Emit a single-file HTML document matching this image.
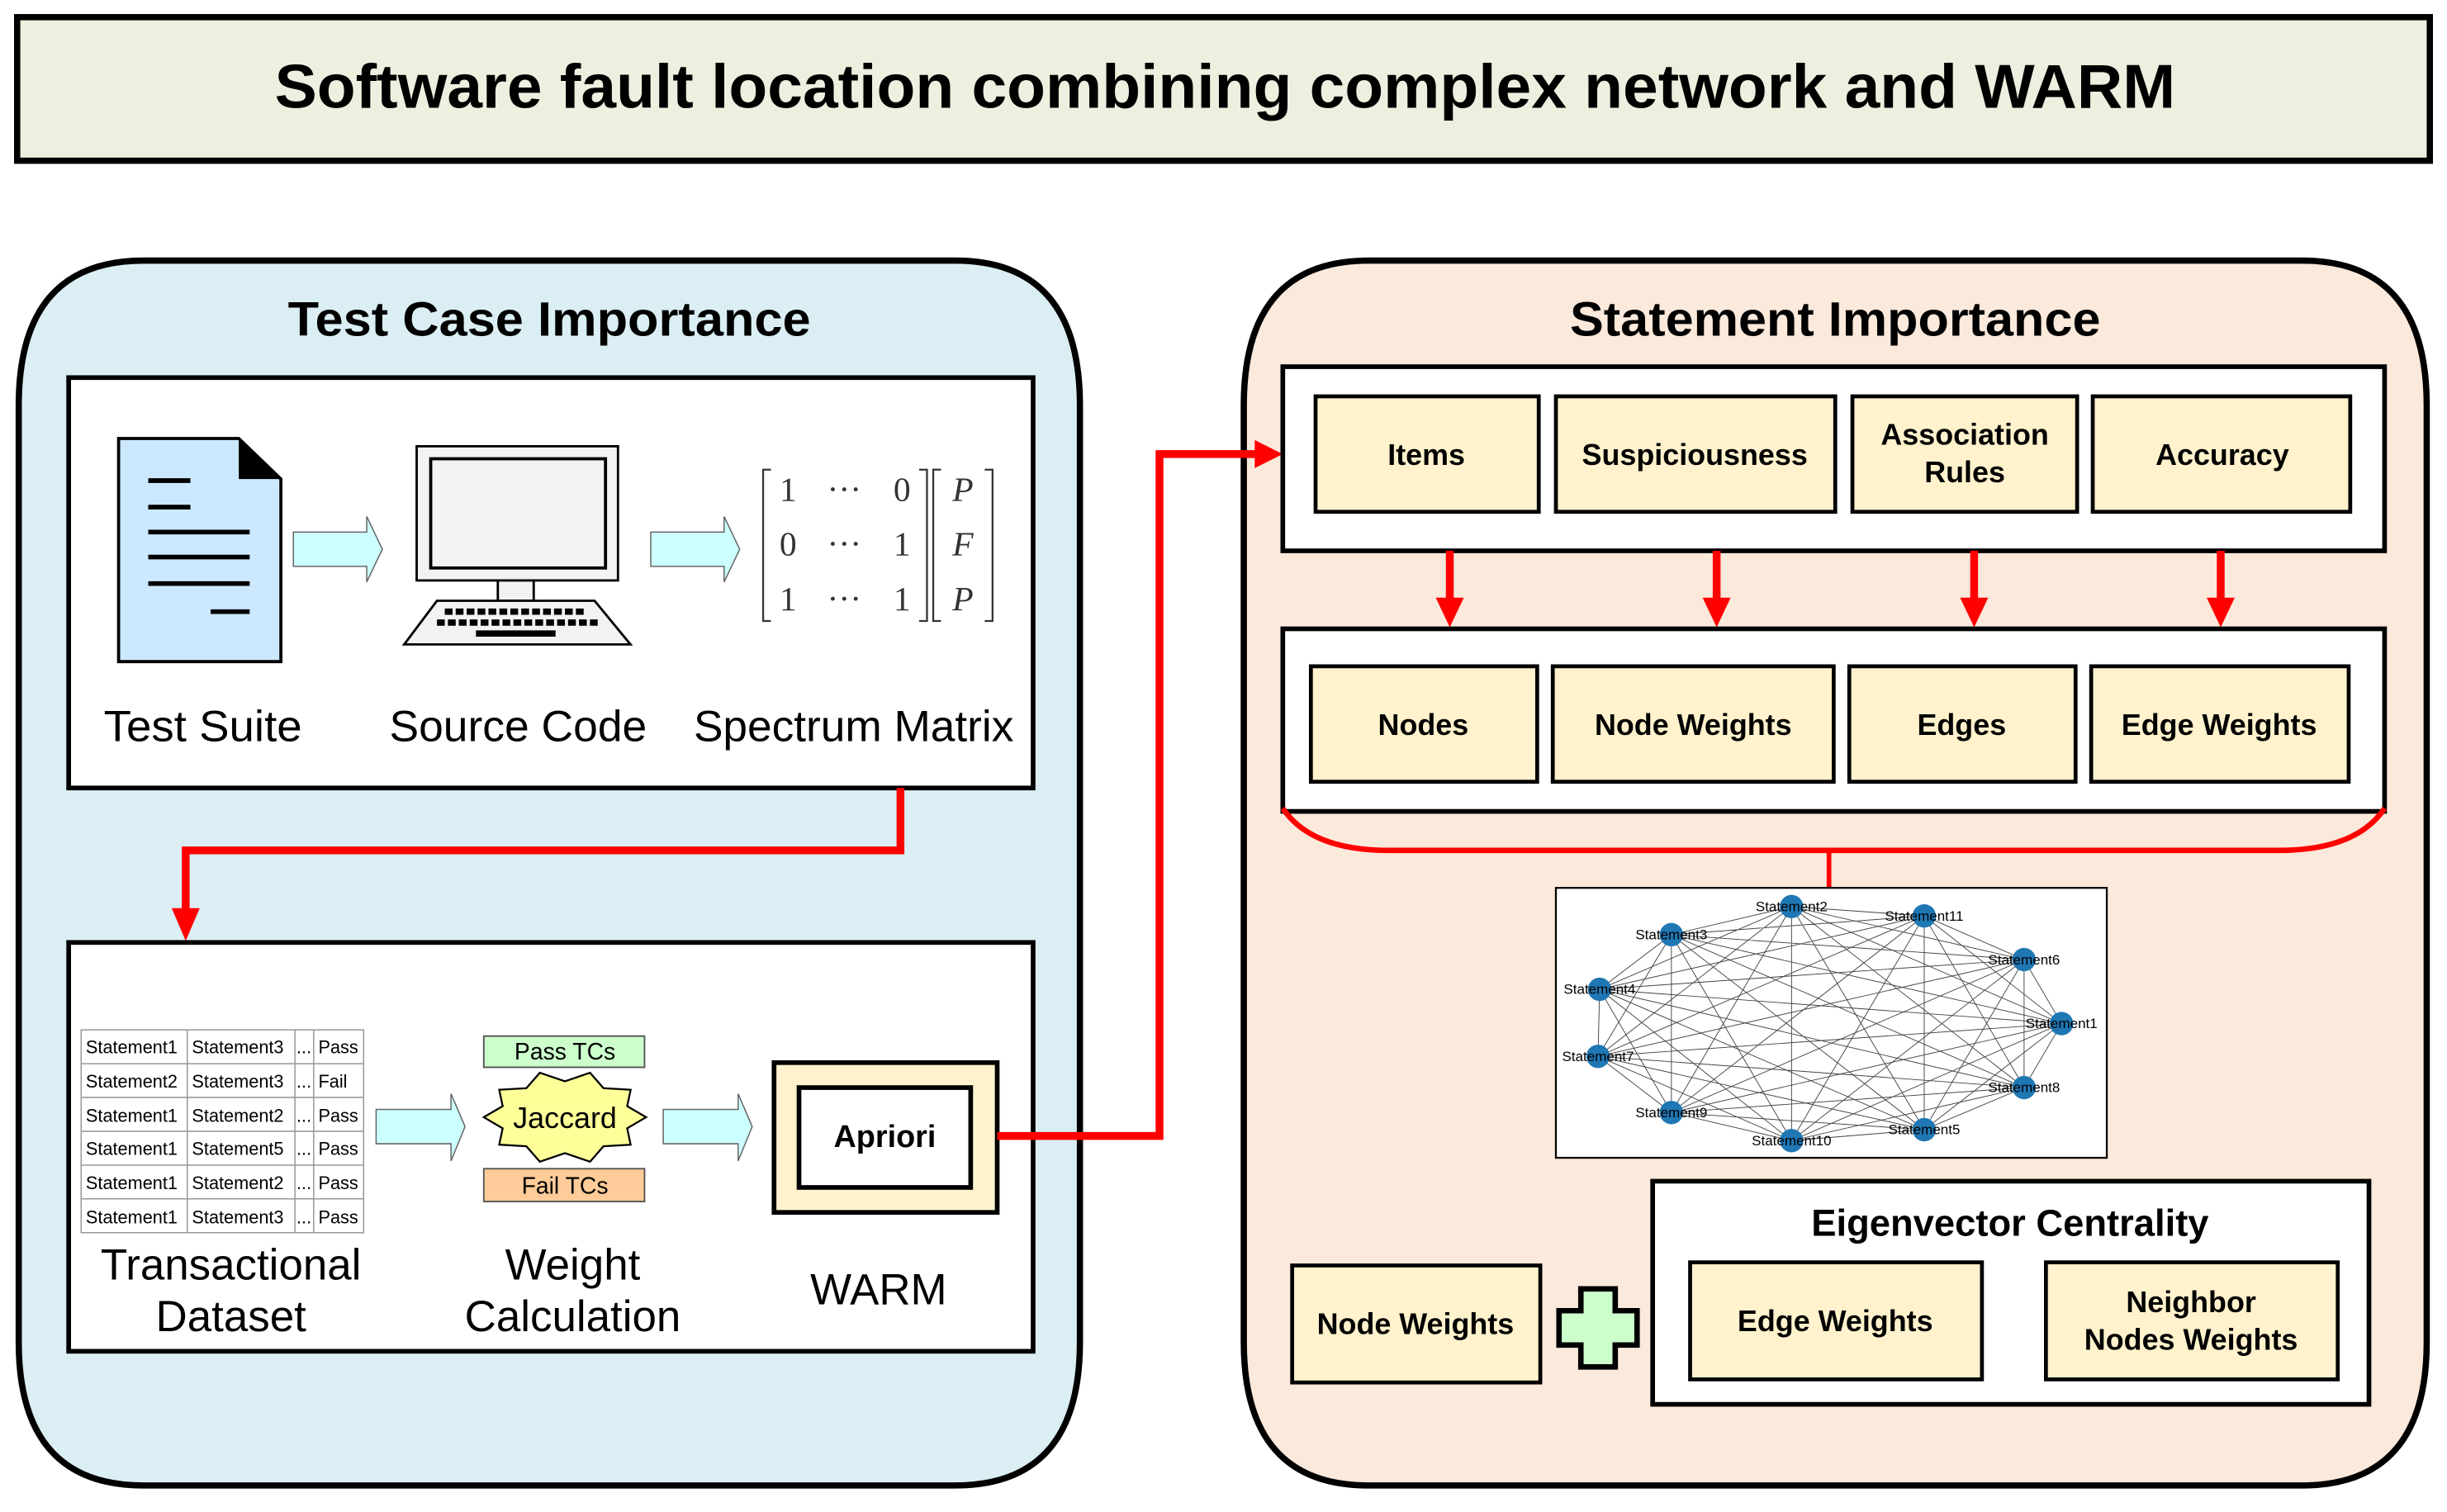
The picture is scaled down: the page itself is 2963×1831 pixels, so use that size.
<!DOCTYPE html>
<html><head><meta charset="utf-8"><style>
html,body{margin:0;padding:0;background:#fff;}
svg{display:block;}
text{font-family:"Liberation Sans",Arial,sans-serif;}
</style></head><body>
<svg width="2963" height="1831" viewBox="0 0 1568 969" preserveAspectRatio="none" xmlns="http://www.w3.org/2000/svg">
<!-- Title -->
<rect x="11" y="11" width="1546" height="92" fill="#EBF1DE" stroke="#000" stroke-width="4"/>
<text x="785" y="69" font-size="40" font-weight="bold" text-anchor="middle" textLength="1218" lengthAdjust="spacingAndGlyphs">Software fault location combining complex network and WARM</text>

<!-- Left panel -->
<path d="M92,167 H612 Q692,167 692,260 V860 Q692,952 612,952 H92 Q12,952 12,860 V260 Q12,167 92,167 Z" fill="#DAEEF3" stroke="#000" stroke-width="4"/>
<text x="352" y="215" font-size="31" font-weight="bold" text-anchor="middle" textLength="335" lengthAdjust="spacingAndGlyphs">Test Case Importance</text>
<rect x="44" y="242" width="618" height="263" fill="#fff" stroke="#000" stroke-width="3"/>

<!-- doc icon -->
<polygon points="76,281 153,281 180,307 180,424 76,424" fill="#CCE8FF" stroke="#000" stroke-width="2"/>
<polygon points="153,281 180,307 153,307" fill="#000"/>
<g stroke="#000" stroke-width="3">
<line x1="95" y1="308" x2="122" y2="308"/><line x1="95" y1="325" x2="122" y2="325"/>
<line x1="95" y1="341" x2="160" y2="341"/><line x1="95" y1="357" x2="160" y2="357"/>
<line x1="95" y1="374" x2="160" y2="374"/><line x1="135" y1="392" x2="160" y2="392"/>
</g>
<!-- block arrows -->
<polygon points="188,341 235,341 235,331 245,352 235,373 235,363 188,363" fill="#CCFFFF" stroke="#666" stroke-width="0.8"/>
<polygon points="417,341 464,341 464,331 474,352 464,373 464,363 417,363" fill="#CCFFFF" stroke="#666" stroke-width="0.8"/>
<!-- computer -->
<rect x="267" y="286" width="129" height="86" fill="#F2F2F2" stroke="#000" stroke-width="1.5"/>
<rect x="276" y="294" width="112" height="70" fill="#F2F2F2" stroke="#000" stroke-width="2"/>
<rect x="319" y="372" width="23" height="13" fill="#F2F2F2" stroke="#000" stroke-width="1.5"/>
<polygon points="280,385 381,385 404,413 259,413" fill="#F2F2F2" stroke="#000" stroke-width="1.5"/>
<g stroke="#000" stroke-width="4" stroke-dasharray="5,2">
<line x1="285" y1="392" x2="376" y2="392"/><line x1="280" y1="399" x2="384" y2="399"/>
</g>
<line x1="305" y1="406" x2="356" y2="406" stroke="#000" stroke-width="4"/>
<!-- matrix -->
<g fill="none" stroke="#333" stroke-width="1.2">
<path d="M494,301 H489 V398 H494"/><path d="M589,301 H594 V398 H589"/>
<path d="M603,301 H598 V398 H603"/><path d="M631,301 H636 V398 H631"/>
</g>
<g style="font-family:'Liberation Serif',serif" font-size="22" fill="#333" text-anchor="middle">
<text style="font-family:'Liberation Serif',serif" x="505" y="321">1</text><text style="font-family:'Liberation Serif',serif" x="541" y="321">···</text><text style="font-family:'Liberation Serif',serif" x="578" y="321">0</text>
<text style="font-family:'Liberation Serif',serif" x="505" y="356">0</text><text style="font-family:'Liberation Serif',serif" x="541" y="356">···</text><text style="font-family:'Liberation Serif',serif" x="578" y="356">1</text>
<text style="font-family:'Liberation Serif',serif" x="505" y="391">1</text><text style="font-family:'Liberation Serif',serif" x="541" y="391">···</text><text style="font-family:'Liberation Serif',serif" x="578" y="391">1</text>
<text style="font-family:'Liberation Serif',serif" x="617" y="321" font-style="italic">P</text><text style="font-family:'Liberation Serif',serif" x="617" y="356" font-style="italic">F</text><text style="font-family:'Liberation Serif',serif" x="617" y="391" font-style="italic">P</text>
</g>
<g font-size="28" text-anchor="middle">
<text x="130" y="475" textLength="127" lengthAdjust="spacingAndGlyphs">Test Suite</text>
<text x="332" y="475" textLength="165" lengthAdjust="spacingAndGlyphs">Source Code</text>
<text x="547" y="475" textLength="205" lengthAdjust="spacingAndGlyphs">Spectrum Matrix</text>
</g>

<!-- box 2 -->
<rect x="44" y="604" width="618" height="262" fill="#fff" stroke="#000" stroke-width="3"/>
<g stroke="#999" stroke-width="0.8" fill="none">
<rect x="52" y="660" width="181" height="130"/>
<line x1="52" y1="681.7" x2="233" y2="681.7"/><line x1="52" y1="703.3" x2="233" y2="703.3"/>
<line x1="52" y1="725" x2="233" y2="725"/><line x1="52" y1="746.7" x2="233" y2="746.7"/>
<line x1="52" y1="768.3" x2="233" y2="768.3"/>
<line x1="120" y1="660" x2="120" y2="790"/><line x1="189" y1="660" x2="189" y2="790"/><line x1="201" y1="660" x2="201" y2="790"/>
</g>
<g font-size="11.5">
<text x="55" y="675">Statement1</text><text x="123" y="675">Statement3</text><text x="190" y="675">...</text><text x="204" y="675">Pass</text>
<text x="55" y="697">Statement2</text><text x="123" y="697">Statement3</text><text x="190" y="697">...</text><text x="204" y="697">Fail</text>
<text x="55" y="719">Statement1</text><text x="123" y="719">Statement2</text><text x="190" y="719">...</text><text x="204" y="719">Pass</text>
<text x="55" y="740">Statement1</text><text x="123" y="740">Statement5</text><text x="190" y="740">...</text><text x="204" y="740">Pass</text>
<text x="55" y="762">Statement1</text><text x="123" y="762">Statement2</text><text x="190" y="762">...</text><text x="204" y="762">Pass</text>
<text x="55" y="784">Statement1</text><text x="123" y="784">Statement3</text><text x="190" y="784">...</text><text x="204" y="784">Pass</text>
</g>
<polygon points="241,711 289,711 289,701 298,722 289,744 289,733 241,733" fill="#CCFFFF" stroke="#666" stroke-width="0.8"/>
<polygon points="425,711 473,711 473,701 482,722 473,744 473,733 425,733" fill="#CCFFFF" stroke="#666" stroke-width="0.8"/>
<rect x="310" y="664" width="103" height="20" fill="#CCFFCC" stroke="#555" stroke-width="1"/>
<text x="362" y="679" font-size="15" text-anchor="middle">Pass TCs</text>
<rect x="310" y="749" width="103" height="21" fill="#FFCC99" stroke="#555" stroke-width="1"/>
<text x="362" y="765" font-size="15" text-anchor="middle">Fail TCs</text>
<polygon points="414,716 401.9,723.1 404.1,733.6 386.7,734.6 378.1,744.5 362,739 345.9,744.5 337.3,734.6 319.9,733.6 322.1,723.1 310,716 322.1,708.9 319.9,698.4 337.3,697.4 345.9,687.5 362,693 378.1,687.5 386.7,697.4 404.1,698.4 401.9,708.9" fill="#FFFF99" stroke="#000" stroke-width="1.2"/>
<text x="362" y="723" font-size="19" text-anchor="middle">Jaccard</text>
<rect x="496" y="681" width="143" height="96" fill="#FFF2CC" stroke="#000" stroke-width="3"/>
<rect x="512" y="697" width="110" height="64" fill="#fff" stroke="#000" stroke-width="3"/>
<text x="567" y="735" font-size="20" font-weight="bold" text-anchor="middle">Apriori</text>
<g font-size="28" text-anchor="middle">
<text x="148" y="820">Transactional</text><text x="148" y="853">Dataset</text>
<text x="367" y="820">Weight</text><text x="367" y="853">Calculation</text>
<text x="563" y="836">WARM</text>
</g>

<!-- red connector left -->
<path d="M577,505 V545 H119 V588" fill="none" stroke="#f00" stroke-width="5"/>
<polygon points="110,582 128,582 119,603" fill="#f00"/>

<!-- Right panel -->
<path d="M877,167 H1475 Q1555,167 1555,260 V860 Q1555,952 1475,952 H877 Q797,952 797,860 V260 Q797,167 877,167 Z" fill="#FBE9DB" stroke="#000" stroke-width="4"/>
<path d="M639,728 H743 V291 H806" fill="none" stroke="#f00" stroke-width="5"/>
<polygon points="804,282 804,300 822,291" fill="#f00"/>
<text x="1176" y="215" font-size="31" font-weight="bold" text-anchor="middle" textLength="340" lengthAdjust="spacingAndGlyphs">Statement Importance</text>
<rect x="822" y="235" width="706" height="118" fill="#fff" stroke="#000" stroke-width="3"/>
<g fill="#FFF2CC" stroke="#000" stroke-width="2.5">
<rect x="843" y="254" width="143" height="74"/><rect x="997" y="254" width="179" height="74"/>
<rect x="1187" y="254" width="144" height="74"/><rect x="1341" y="254" width="165" height="74"/>
</g>
<g font-size="19" font-weight="bold" text-anchor="middle">
<text x="914" y="298">Items</text><text x="1086" y="298">Suspiciousness</text>
<text x="1259" y="285">Association</text><text x="1259" y="309">Rules</text>
<text x="1424" y="298">Accuracy</text>
</g>
<g stroke="#f00" stroke-width="5">
<line x1="929" y1="353" x2="929" y2="388"/><line x1="1100" y1="353" x2="1100" y2="388"/>
<line x1="1265" y1="353" x2="1265" y2="388"/><line x1="1423" y1="353" x2="1423" y2="388"/>
</g>
<g fill="#f00">
<polygon points="920,383 938,383 929,402"/><polygon points="1091,383 1109,383 1100,402"/>
<polygon points="1256,383 1274,383 1265,402"/><polygon points="1414,383 1432,383 1423,402"/>
</g>
<rect x="822" y="403" width="706" height="117" fill="#fff" stroke="#000" stroke-width="3"/>
<g fill="#FFF2CC" stroke="#000" stroke-width="2.5">
<rect x="840" y="427" width="145" height="74"/><rect x="995" y="427" width="180" height="74"/>
<rect x="1185" y="427" width="145" height="74"/><rect x="1340" y="427" width="165" height="74"/>
</g>
<g font-size="19" font-weight="bold" text-anchor="middle">
<text x="912" y="471">Nodes</text><text x="1085" y="471">Node Weights</text>
<text x="1257" y="471">Edges</text><text x="1422" y="471">Edge Weights</text>
</g>
<path d="M822,518 Q840,545 890,545 H1460 Q1510,545 1528,518" fill="none" stroke="#f00" stroke-width="3.5"/>
<line x1="1172" y1="545" x2="1172" y2="569" stroke="#f00" stroke-width="3"/>

<!-- graph -->
<rect x="997" y="569" width="353" height="173" fill="#fff" stroke="#000" stroke-width="1.2"/>
<path stroke="#444" stroke-width="0.5" fill="none" d="
M1148,581L1233,587 M1148,581L1071,599 M1148,581L1297,615 M1148,581L1025,634 M1148,581L1321,656 M1148,581L1024,677 M1148,581L1297,697 M1148,581L1071,713 M1148,581L1148,731 M1148,581L1233,724
M1233,587L1071,599 M1233,587L1297,615 M1233,587L1025,634 M1233,587L1321,656 M1233,587L1024,677 M1233,587L1297,697 M1233,587L1071,713 M1233,587L1148,731 M1233,587L1233,724
M1071,599L1297,615 M1071,599L1025,634 M1071,599L1321,656 M1071,599L1024,677 M1071,599L1297,697 M1071,599L1071,713 M1071,599L1148,731 M1071,599L1233,724
M1297,615L1025,634 M1297,615L1321,656 M1297,615L1024,677 M1297,615L1297,697 M1297,615L1071,713 M1297,615L1148,731 M1297,615L1233,724
M1025,634L1321,656 M1025,634L1024,677 M1025,634L1297,697 M1025,634L1071,713 M1025,634L1148,731 M1025,634L1233,724
M1321,656L1024,677 M1321,656L1297,697 M1321,656L1071,713 M1321,656L1148,731 M1321,656L1233,724
M1024,677L1297,697 M1024,677L1071,713 M1024,677L1148,731 M1024,677L1233,724
M1297,697L1071,713 M1297,697L1148,731 M1297,697L1233,724
M1071,713L1148,731 M1071,713L1233,724 M1148,731L1233,724"/>
<g fill="#1F77B4">
<circle cx="1148" cy="581" r="7.5"/><circle cx="1233" cy="587" r="7.5"/><circle cx="1071" cy="599" r="7.5"/>
<circle cx="1297" cy="615" r="7.5"/><circle cx="1025" cy="634" r="7.5"/><circle cx="1321" cy="656" r="7.5"/>
<circle cx="1024" cy="677" r="7.5"/><circle cx="1297" cy="697" r="7.5"/><circle cx="1071" cy="713" r="7.5"/>
<circle cx="1148" cy="731" r="7.5"/><circle cx="1233" cy="724" r="7.5"/>
</g>
<g font-size="9" text-anchor="middle">
<text x="1148" y="584">Statement2</text><text x="1233" y="590">Statement11</text><text x="1071" y="602">Statement3</text>
<text x="1297" y="618">Statement6</text><text x="1025" y="637">Statement4</text><text x="1321" y="659">Statement1</text>
<text x="1024" y="680">Statement7</text><text x="1297" y="700">Statement8</text><text x="1071" y="716">Statement9</text>
<text x="1148" y="734">Statement10</text><text x="1233" y="727">Statement5</text>
</g>

<!-- eigenvector -->
<rect x="1059" y="757" width="459" height="143" fill="#fff" stroke="#000" stroke-width="3"/>
<text x="1288" y="792" font-size="24" font-weight="bold" text-anchor="middle">Eigenvector Centrality</text>
<g fill="#FFF2CC" stroke="#000" stroke-width="2.5">
<rect x="1083" y="809" width="187" height="75"/><rect x="1311" y="809" width="187" height="75"/>
<rect x="828" y="811" width="159" height="75"/>
</g>
<g font-size="19" font-weight="bold" text-anchor="middle">
<text x="1176" y="853">Edge Weights</text>
<text x="1404" y="841">Neighbor</text><text x="1404" y="865">Nodes Weights</text>
<text x="907" y="855">Node Weights</text>
</g>
<polygon points="1013,826 1035,826 1035,840 1049,840 1049,862 1035,862 1035,876 1013,876 1013,862 999,862 999,840 1013,840" fill="#CCFFCC" stroke="#000" stroke-width="3.5"/>
</svg>
</body></html>
